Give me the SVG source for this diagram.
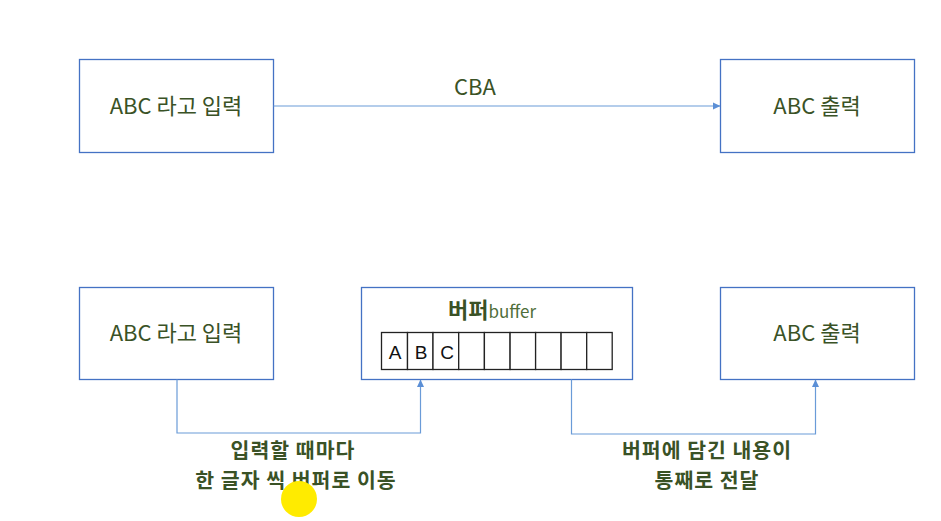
<svg xmlns="http://www.w3.org/2000/svg" width="941" height="521" viewBox="0 0 941 521">
<defs>
<marker id="ah" markerWidth="8" markerHeight="8" refX="7" refY="4" orient="auto" markerUnits="userSpaceOnUse">
<path d="M0,0.5 L7.5,4 L0,7.5 Z" fill="#5b8fd6"/>
</marker>
<style>
.box{fill:#fff;stroke:#4472c4;stroke-width:1.3}
.cell{fill:#fff;stroke:#222;stroke-width:1.3}
.t{font-family:"Noto Sans CJK KR","Noto Sans",sans-serif;fill:#3a5226;font-size:22px;text-anchor:middle}
.lb{font-weight:bold;font-size:20.5px;letter-spacing:1px}
.c{fill:none;stroke:#6a9bd8;stroke-width:1.2}
.ct{font-family:"Liberation Sans",sans-serif;fill:#111;font-size:19px;text-anchor:middle}
</style>
</defs>
<rect width="941" height="521" fill="#fff"/>
<g id="top-input"><rect class="box" x="79.5" y="59.5" width="194" height="93"/><text class="t" x="176" y="114">ABC 라고 입력</text></g>
<g id="top-output"><rect class="box" x="720.5" y="59.5" width="194" height="93"/><text class="t" x="817" y="114">ABC 출력</text></g>
<g id="bottom-input"><rect class="box" x="79.5" y="287.5" width="194" height="92"/><text class="t" x="176" y="341">ABC 라고 입력</text></g>
<g id="buffer"><rect class="box" x="361.5" y="287.5" width="271" height="92"/>
<text class="t" x="492" y="318"><tspan font-weight="bold">버퍼</tspan><tspan font-size="17" fill="#4f6e3a">buffer</tspan></text>
<rect class="cell" x="381.5" y="332.5" width="26" height="37"/>
<rect class="cell" x="407.5" y="332.5" width="25.5" height="37"/>
<rect class="cell" x="433" y="332.5" width="25.7" height="37"/>
<rect class="cell" x="458.7" y="332.5" width="25.7" height="37"/>
<rect class="cell" x="484.4" y="332.5" width="25.7" height="37"/>
<rect class="cell" x="510.1" y="332.5" width="25.5" height="37"/>
<rect class="cell" x="535.6" y="332.5" width="25.5" height="37"/>
<rect class="cell" x="561.1" y="332.5" width="25.6" height="37"/>
<rect class="cell" x="586.7" y="332.5" width="25.5" height="37"/>
<text class="ct" x="395" y="359">A</text><text class="ct" x="421" y="359">B</text><text class="ct" x="447" y="359">C</text>
</g>
<g id="bottom-output"><rect class="box" x="720.5" y="287.5" width="194" height="92"/><text class="t" x="817" y="341">ABC 출력</text></g>
<g id="connectors">
<path class="c" d="M273.5,106 H720" marker-end="url(#ah)"/>
<text class="t" x="475" y="95">CBA</text>
<path class="c" d="M177,379.5 V433 H420.5 V380" marker-end="url(#ah)"/>
<path class="c" d="M571.5,379.5 V434 H815.5 V380" marker-end="url(#ah)"/>
</g>
<g id="labels">
<text class="t lb" x="293" y="458">입력할 때마다</text>
<text class="t lb" x="296" y="488">한 글자 씩 버퍼로 이동</text>
<text class="t lb" x="707" y="458">버퍼에 담긴 내용이</text>
<text class="t lb" x="707" y="488">통째로 전달</text>
</g>
<circle cx="299" cy="499" r="18" fill="#ffeb00"/>
</svg>
